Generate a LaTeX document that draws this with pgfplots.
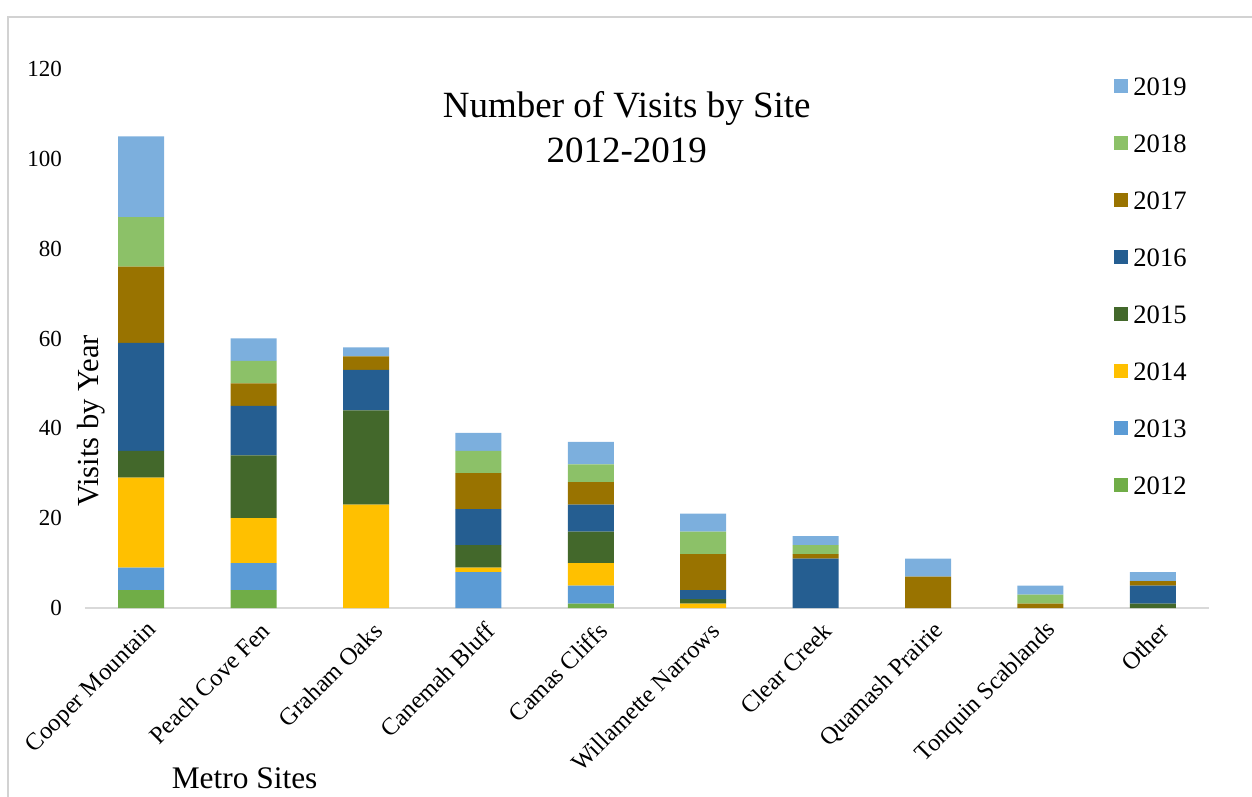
\documentclass[border=0pt]{standalone}
\usepackage{pgfplots}
\pgfplotsset{compat=1.18}
\usepackage{pgfplotstable}
\usepackage{fontspec}
\setmainfont{Liberation Serif}
\definecolor{c12}{HTML}{70AD47}
\definecolor{c13}{HTML}{5B9BD5}
\definecolor{c14}{HTML}{FFC000}
\definecolor{c15}{HTML}{43682B}
\definecolor{c16}{HTML}{255E91}
\definecolor{c17}{HTML}{997300}
\definecolor{c18}{HTML}{8CC168}
\definecolor{c19}{HTML}{7CAFDD}
\pgfplotstableread{
x y12 y13 y14 y15 y16 y17 y18 y19
0 4 5 20 6 24 17 11 18
1 4 6 10 14 11 5 5 5
2 0 0 23 21 9 3 0 2
3 0 8 1 5 8 8 5 4
4 1 4 5 7 6 5 4 5
5 0 0 1 1 2 8 5 4
6 0 0 0 0 11 1 2 2
7 0 0 0 0 0 7 0 4
8 0 0 0 0 0 1 2 2
9 0 0 0 1 4 1 0 2
}\visits
\begin{document}
\begin{tikzpicture}
\path[use as bounding box] (0,0) rectangle (626pt,398.5pt);
\draw[gray!35, line width=0.6pt] (4pt,0) -- (4pt,390pt) -- (626pt,390pt);
\begin{axis}[
  at={(42.5pt,94.5pt)}, anchor=south west,
  scale only axis, width=562pt, height=269.5pt,
  ybar stacked, bar width=23pt,
  xmin=-0.5, xmax=9.5, ymin=0, ymax=120,
  xtick=data,
  xticklabels={Cooper Mountain,Peach Cove Fen,Graham Oaks,Canemah Bluff,Camas Cliffs,Willamette Narrows,Clear Creek,Quamash Prairie,Tonquin Scablands,Other},
  ytick={0,20,...,120},
  /pgf/number format/assume math mode=true,
  major tick length=0pt,
  axis x line*=bottom, axis y line*=left,
  x axis line style={draw=gray!30, line width=1pt},
  y axis line style={draw=none},
  yticklabel style={font=\fontsize{11.5}{13}\selectfont, xshift=-8pt},
  xticklabel style={font=\fontsize{12.2}{14}\selectfont, rotate=45, anchor=east, yshift=-11pt, xshift=1pt},
  title={Number of Visits by Site\\2012-2019},
  title style={at={(axis description cs:0.482,0.870)}, anchor=center, align=center, font=\fontsize{18.5}{22.5}\selectfont},
  ylabel={Visits by Year},
  ylabel style={at={(axis description cs:0.0053,0.347)}, anchor=center, font=\fontsize{15.3}{18}\selectfont},
  xlabel={Metro Sites},
  xlabel style={at={(axis description cs:0.142,-0.315)}, anchor=center, font=\fontsize{15.7}{18}\selectfont},
  legend reversed,
  legend image code/.code={\fill[#1, draw=none] (0pt,-3.5pt) rectangle (7pt,3.5pt);},
  legend style={draw=none, fill=none, inner sep=0pt, at={(axis description cs:0.9155,0.9856)}, anchor=north west, row sep=19.5pt, column sep=2.5pt, font=\fontsize{13.3}{15}\selectfont, nodes={inner sep=0pt, text height=9pt, text depth=0pt}},
  legend cell align=left,
]
\addplot[fill=c12, draw=none] table[x=x,y=y12]{\visits};
\addplot[fill=c13, draw=none] table[x=x,y=y13]{\visits};
\addplot[fill=c14, draw=none] table[x=x,y=y14]{\visits};
\addplot[fill=c15, draw=none] table[x=x,y=y15]{\visits};
\addplot[fill=c16, draw=none] table[x=x,y=y16]{\visits};
\addplot[fill=c17, draw=none] table[x=x,y=y17]{\visits};
\addplot[fill=c18, draw=none] table[x=x,y=y18]{\visits};
\addplot[fill=c19, draw=none] table[x=x,y=y19]{\visits};
\legend{2012,2013,2014,2015,2016,2017,2018,2019}
\end{axis}
\end{tikzpicture}
\end{document}
